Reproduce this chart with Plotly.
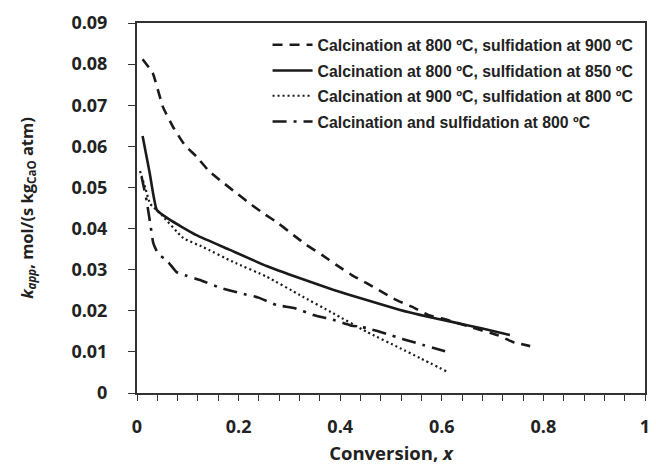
import plotly.graph_objects as go

# Calcination at 800 °C, sulfidation at 900 °C (dashed)
x_c800_s900 = [0.011, 0.031, 0.051, 0.071, 0.094, 0.118, 0.140, 0.163, 0.196, 0.222, 0.249, 0.278,
               0.308, 0.334, 0.364, 0.393, 0.423, 0.452, 0.482, 0.511, 0.541, 0.573, 0.610, 0.650,
               0.709, 0.740, 0.774]
k_c800_s900 = [0.0812, 0.0778, 0.0696, 0.0647, 0.0603, 0.0574, 0.0542, 0.0518, 0.0486, 0.0461, 0.0437, 0.0413,
               0.0384, 0.0360, 0.0336, 0.0311, 0.0287, 0.0267, 0.0246, 0.0226, 0.0210, 0.0190, 0.0178, 0.0163,
               0.0141, 0.0124, 0.0114]

# Calcination at 800 °C, sulfidation at 850 °C (solid)
x_c800_s850 = [0.011, 0.025, 0.039, 0.065, 0.117, 0.183, 0.255, 0.321, 0.386, 0.452, 0.518, 0.557,
               0.620, 0.680, 0.734]
k_c800_s850 = [0.0625, 0.0535, 0.0445, 0.0421, 0.0384, 0.0348, 0.0309, 0.0279, 0.0251, 0.0226, 0.0202, 0.0190,
               0.0173, 0.0157, 0.0141]

# Calcination at 900 °C, sulfidation at 800 °C (dotted)
x_c900_s800 = [0.006, 0.016, 0.026, 0.045, 0.091, 0.130, 0.189, 0.255, 0.321, 0.386, 0.452, 0.518,
               0.557, 0.612]
k_c900_s800 = [0.0540, 0.0500, 0.0460, 0.0438, 0.0377, 0.0355, 0.0319, 0.0283, 0.0238, 0.0194, 0.0149, 0.0109,
               0.0085, 0.0051]

# Calcination and sulfidation at 800 °C (dash-dot)
x_c800_s800 = [0.009, 0.018, 0.026, 0.032, 0.041, 0.061, 0.078, 0.098, 0.124, 0.163, 0.203, 0.239,
               0.275, 0.311, 0.347, 0.386, 0.419, 0.452, 0.491, 0.524, 0.563, 0.620]
k_c800_s800 = [0.0526, 0.0474, 0.0413, 0.0365, 0.0340, 0.0319, 0.0294, 0.0285, 0.0275, 0.0256, 0.0243, 0.0232,
               0.0214, 0.0206, 0.0190, 0.0178, 0.0165, 0.0158, 0.0144, 0.0131, 0.0117, 0.0097]

names = ["Calcination at 800 ºC, sulfidation at 900 ºC",
         "Calcination at 800 ºC, sulfidation at 850 ºC",
         "Calcination at 900 ºC, sulfidation at 800 ºC",
         "Calcination and sulfidation at 800 ºC"]

x_ticks = [0, 0.2, 0.4, 0.6, 0.8, 1]
x_ticklabels = ["0", "0.2", "0.4", "0.6", "0.8", "1"]
y_ticks = [0, 0.01, 0.02, 0.03, 0.04, 0.05, 0.06, 0.07, 0.08, 0.09]
y_ticklabels = ["0", "0.01", "0.02", "0.03", "0.04", "0.05", "0.06", "0.07", "0.08", "0.09"]

fig = go.Figure()
series = [(x_c800_s900, k_c800_s900, "10px,7px", 2.6),
          (x_c800_s850, k_c800_s850, "solid", 2.6),
          (x_c900_s800, k_c900_s800, "2px,3px", 2.2),
          (x_c800_s800, k_c800_s800, "14px,7px,3px,7px", 2.6)]
legend_ids = ["legend", "legend2", "legend3", "legend4"]
legend_y = [0.9405, 0.871, 0.8027, 0.7332]
for (xs, ys, dash, w), nm, lid in zip(series, names, legend_ids):
    fig.add_trace(go.Scatter(x=xs, y=ys, mode="lines", name=nm, legend=lid,
                             line=dict(color="#1a1a1a", width=w, dash=dash, shape="spline", smoothing=0.4)))

legfont = dict(family="Liberation Sans, Arial, sans-serif", size=15.8, color="#222222", weight="bold")
for lid, ly in zip(legend_ids, legend_y):
    fig.update_layout({lid: dict(x=0.257, y=ly, xanchor="left", yanchor="middle",
                                 bgcolor="rgba(255,255,255,0)", borderwidth=0,
                                 font=legfont, itemwidth=40)})

tickfont = dict(family="Open Sans, DejaVu Sans, sans-serif", size=18, color="#222222", weight="bold")
xtitlefont = dict(family="Open Sans, DejaVu Sans, sans-serif", size=18.5, color="#222222", weight="bold")
ytitlefont = dict(family="Open Sans, DejaVu Sans, sans-serif", size=16.5, color="#222222", weight="bold")
fig.update_layout(
    width=656, height=467,
    margin=dict(l=137, r=11, t=23, b=74, autoexpand=False),
    paper_bgcolor="white", plot_bgcolor="white",
    showlegend=True,
    xaxis=dict(range=[0, 1], tickvals=x_ticks, ticktext=x_ticklabels, automargin=False,
               ticks="outside", ticklen=6, tickwidth=1.2, tickcolor="#333",
               minor=dict(dtick=0.04, ticks="outside", ticklen=6, tickwidth=1.2, tickcolor="#333"),
               showline=True, linecolor="#333", linewidth=2, mirror=True,
               showgrid=False, zeroline=False, tickfont=tickfont, ticklabelstandoff=10,
               title=dict(text="Conversion, <i>x</i>", font=xtitlefont, standoff=10)),
    yaxis=dict(range=[0, 0.09], tickvals=y_ticks, ticktext=y_ticklabels, automargin=False,
               ticks="outside", ticklen=7, tickwidth=1.2, tickcolor="#333",
               showline=True, linecolor="#333", linewidth=2, mirror=True,
               showgrid=False, zeroline=False, tickfont=tickfont, ticklabelstandoff=17,
               title=dict(text="<i>k<sub>app</sub></i>, mol/(s kg<sub>CaO</sub> atm)", font=ytitlefont, standoff=34)),
)
fig.write_html("out.html")
